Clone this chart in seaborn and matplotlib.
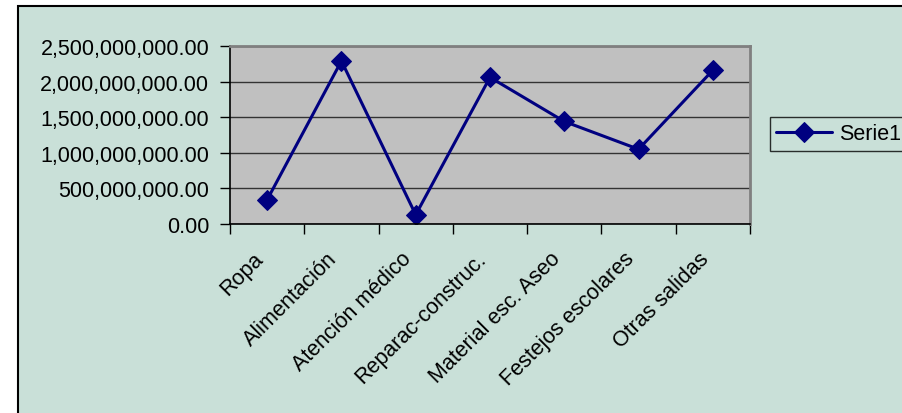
import numpy as np
import pandas as pd
import seaborn as sns
import matplotlib.pyplot as plt
from matplotlib.patches import Rectangle
from matplotlib.transforms import ScaledTranslation
from matplotlib.ticker import FuncFormatter, FixedLocator

categorias = ["Ropa", "Alimentación", "Atención médico", "Reparac-construc.",
              "Material esc. Aseo", "Festejos escolares", "Otras salidas"]
valores = [340000000, 2290000000, 130000000, 2060000000,
           1440000000, 1050000000, 2160000000]
serie = "Serie1"

df = pd.DataFrame({"pos": np.arange(len(categorias)), "valor": valores, "serie": serie})

sns.set_style("white")
plt.rcParams["font.family"] = ["Liberation Sans", "DejaVu Sans"]
plt.rcParams["text.color"] = "black"

fig = plt.figure(figsize=(9.02, 4.14), dpi=100)
fig.patch.set_facecolor("white")
bg = Rectangle((18 / 902, -0.1), 1.1, (414 - 7) / 414 + 0.1, transform=fig.transFigure,
               facecolor="#C9E0D8", edgecolor="black", linewidth=1.5, zorder=-10)
fig.patches.append(bg)

ax = fig.add_axes([230 / 902, (414 - 225) / 414, 520 / 902, 178 / 414])
ax.set_facecolor("#C0C0C0")

sns.lineplot(data=df, x="pos", y="valor", hue="serie", palette=["#000080"],
             marker="D", markersize=10, markeredgecolor="#000080",
             linewidth=2.2, ax=ax, legend=True)

ax.set_xlim(-0.5, 6.5)
ax.set_ylim(0, 2500000000)
ax.set_yticks(np.arange(0, 2500000001, 500000000))
ax.yaxis.set_major_formatter(FuncFormatter(lambda v, p: f"{v:,.2f}"))
ax.yaxis.grid(True, color="#333333", linewidth=1)
ax.set_axisbelow(True)

ax.xaxis.set_major_locator(FixedLocator(np.arange(-0.5, 7, 1)))
ax.set_xticklabels([])
ax.xaxis.set_minor_locator(FixedLocator(np.arange(len(categorias))))
ax.set_xticklabels(categorias, minor=True, rotation=45, ha="right", va="top",
                   rotation_mode="default", fontsize=15.5)
shift = ScaledTranslation(-10 / 100, 0, fig.dpi_scale_trans)
for lab in ax.get_xticklabels(minor=True):
    lab.set_transform(lab.get_transform() + shift)
ax.tick_params(axis="x", which="minor", length=0, pad=17, labelcolor="black")
ax.tick_params(axis="x", which="major", direction="out", length=7, width=1, color="black", bottom=True)
ax.tick_params(axis="y", direction="out", length=7, width=1, color="black", left=True,
               labelsize=15.5, pad=8, labelcolor="black")
ax.set_xlabel("")
ax.set_ylabel("")

for s in ["top", "right"]:
    ax.spines[s].set_color("#808080")
    ax.spines[s].set_linewidth(2)
for s in ["left", "bottom"]:
    ax.spines[s].set_color("black")
    ax.spines[s].set_linewidth(1.2)

leg = ax.legend(loc="upper left", bbox_to_anchor=(770 / 902, (414 - 118) / 414),
                bbox_transform=fig.transFigure, frameon=True, fancybox=False,
                fontsize=15.5, handlelength=2.6, borderpad=0.3, handletextpad=0.3,
                borderaxespad=0)
leg.get_frame().set_edgecolor("black")
leg.get_frame().set_facecolor("#C9E0D8")
leg.get_frame().set_linewidth(1)
for t in leg.get_texts():
    t.set_color("black")

fig.savefig("out.png", dpi=100, facecolor=fig.get_facecolor())
